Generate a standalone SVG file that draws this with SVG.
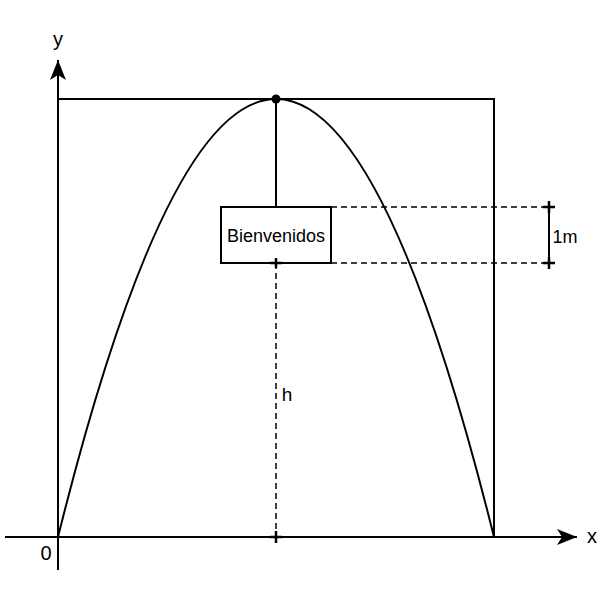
<svg xmlns="http://www.w3.org/2000/svg" width="602" height="602" viewBox="0 0 602 602">
<defs>
<style>
.ln{stroke:#000;stroke-width:2;fill:none}
.tick{stroke:#000;stroke-width:2.5;fill:none}
.dash{stroke:#000;stroke-width:1.5;fill:none;stroke-dasharray:6 4}
.txt{font-family:"Liberation Sans",Arial,sans-serif;fill:#000}
</style>
<marker id="ah" viewBox="0 0 20 16" refX="20" refY="8" markerWidth="20" markerHeight="16" markerUnits="userSpaceOnUse" orient="auto">
<path d="M0 0 L20 8 L0 16 L5 8 Z" fill="#000"/>
</marker>
</defs>
<rect width="602" height="602" fill="#fff"/>
<g id="frame">
<rect x="58" y="99" width="436" height="438" class="ln"/>
</g>
<g id="connectors">
<line x1="58" y1="570" x2="58" y2="60" class="ln" marker-end="url(#ah)"/>
<line x1="5" y1="537" x2="577" y2="537" class="ln" marker-end="url(#ah)"/>
<path d="M58 537 Q276 -339 494 537" class="ln" stroke-width="2.2"/>
<line x1="276" y1="99" x2="276" y2="207" class="ln"/>
<line x1="331" y1="207" x2="549" y2="207" class="dash"/>
<line x1="331" y1="263" x2="549" y2="263" class="dash"/>
<line x1="549" y1="207" x2="549" y2="263" class="ln"/>
<path d="M543 207 H555 M549 201 V213 M543 263 H555 M549 257 V269" class="tick"/>
<line x1="276" y1="263" x2="276" y2="537" class="dash"/>
<path d="M270 263 H282 M276 258 V268 M270 537 H282 M276 531 V543" class="tick"/>
</g>
<g id="vertex">
<circle cx="276" cy="99" r="4.5" fill="#000"/>
</g>
<g id="box">
<rect x="221" y="207" width="110" height="56" class="ln" fill="#fff"/>
<text x="276" y="242" text-anchor="middle" font-size="18" class="txt">Bienvenidos</text>
</g>
<g id="labels">
<text x="58" y="46" text-anchor="middle" font-size="20" class="txt">y</text>
<text x="592" y="543" text-anchor="middle" font-size="20" class="txt">x</text>
<text x="46" y="560" text-anchor="middle" font-size="20" class="txt">0</text>
<text x="565" y="243" text-anchor="middle" font-size="18" class="txt">1m</text>
<text x="287" y="401" text-anchor="middle" font-size="19" class="txt">h</text>
</g>
</svg>
